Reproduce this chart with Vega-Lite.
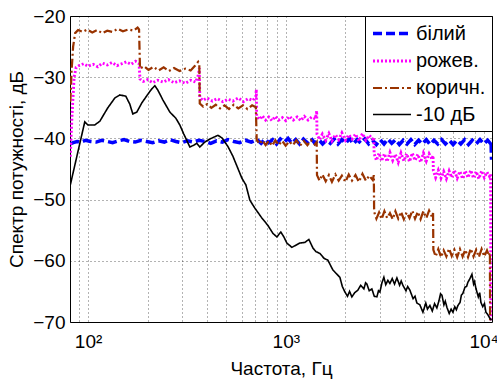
{
  "$schema": "https://vega.github.io/schema/vega-lite/v6.json",
  "width": 422,
  "height": 306,
  "autosize": {"type": "none"},
  "padding": {"left": 70, "top": 16, "right": 5, "bottom": 58},
  "config": {
    "font": "Liberation Sans",
    "view": {"stroke": "#000000", "strokeWidth": 1},
    "axis": {
      "domain": false,
      "ticks": false,
      "tickSize": 0,
      "grid": true,
      "gridColor": "#000000",
      "gridOpacity": 0.6,
      "gridDash": [1, 3],
      "gridWidth": 1,
      "labelFont": "Liberation Sans",
      "labelFontSize": 19,
      "labelColor": "#000000",
      "titleFont": "Liberation Sans",
      "titleFontSize": 19,
      "titleFontWeight": "normal",
      "titleColor": "#000000"
    },
    "legend": {
      "orient": "top-right",
      "offset": 0,
      "strokeColor": "#000000",
      "fillColor": "#ffffff",
      "padding": 6,
      "rowPadding": 6,
      "symbolType": "M-1,0H3",
      "symbolSize": 361,
      "symbolStrokeWidth": 2.5,
      "labelFont": "Liberation Sans",
      "labelFontSize": 20,
      "labelOffset": 22,
      "labelColor": "#000000"
    }
  },
  "data": {
    "values": [
      {"s": "білий", "f": 81.5, "db": -40.9}, {"s": "білий", "f": 84, "db": -40.7}, {"s": "білий", "f": 88, "db": -40.5}, {"s": "білий", "f": 92, "db": -40.6}, {"s": "білий", "f": 97, "db": -40.3}, {"s": "білий", "f": 103, "db": -40.5}, {"s": "білий", "f": 110, "db": -40.6}, {"s": "білий", "f": 117, "db": -40.3}, {"s": "білий", "f": 125, "db": -40.5}, {"s": "білий", "f": 133, "db": -40.7}, {"s": "білий", "f": 142, "db": -40.4}, {"s": "білий", "f": 152, "db": -40.2}, {"s": "білий", "f": 162, "db": -40.5}, {"s": "білий", "f": 173, "db": -40.6}, {"s": "білий", "f": 185, "db": -40.3}, {"s": "білий", "f": 198, "db": -40.5}, {"s": "білий", "f": 212, "db": -40.7}, {"s": "білий", "f": 227, "db": -40.4}, {"s": "білий", "f": 243, "db": -40.6}, {"s": "білий", "f": 260, "db": -40.2}, {"s": "білий", "f": 278, "db": -40.5}, {"s": "білий", "f": 297, "db": -40.7}, {"s": "білий", "f": 318, "db": -40.4}, {"s": "білий", "f": 340, "db": -40.6}, {"s": "білий", "f": 364, "db": -40.3}, {"s": "білий", "f": 390, "db": -40.5}, {"s": "білий", "f": 417, "db": -40.8}, {"s": "білий", "f": 446, "db": -40.4}, {"s": "білий", "f": 477, "db": -40.6}, {"s": "білий", "f": 510, "db": -40.2}, {"s": "білий", "f": 546, "db": -40.5}, {"s": "білий", "f": 584, "db": -40.7}, {"s": "білий", "f": 625, "db": -40.3}, {"s": "білий", "f": 668, "db": -40.6}, {"s": "білий", "f": 715, "db": -40.2}, {"s": "білий", "f": 750, "db": -40.8}, {"s": "білий", "f": 785, "db": -40.1}, {"s": "білий", "f": 820, "db": -40.7}, {"s": "білий", "f": 858, "db": -40.2}, {"s": "білий", "f": 897, "db": -40.9}, {"s": "білий", "f": 938, "db": -40.1}, {"s": "білий", "f": 981, "db": -40.6}, {"s": "білий", "f": 1026, "db": -40.0}, {"s": "білий", "f": 1073, "db": -40.8}, {"s": "білий", "f": 1122, "db": -40.2}, {"s": "білий", "f": 1173, "db": -40.9}, {"s": "білий", "f": 1227, "db": -40.1}, {"s": "білий", "f": 1283, "db": -40.7}, {"s": "білий", "f": 1342, "db": -40.0}, {"s": "білий", "f": 1403, "db": -40.8}, {"s": "білий", "f": 1467, "db": -40.2}, {"s": "білий", "f": 1534, "db": -40.9}, {"s": "білий", "f": 1604, "db": -40.3}, {"s": "білий", "f": 1678, "db": -40.8}, {"s": "білий", "f": 1754, "db": -40.1}, {"s": "білий", "f": 1835, "db": -40.9}, {"s": "білий", "f": 1918, "db": -40.2}, {"s": "білий", "f": 2006, "db": -40.8}, {"s": "білий", "f": 2098, "db": -40.0}, {"s": "білий", "f": 2194, "db": -40.9}, {"s": "білий", "f": 2294, "db": -40.2}, {"s": "білий", "f": 2399, "db": -40.8}, {"s": "білий", "f": 2508, "db": -40.1}, {"s": "білий", "f": 2623, "db": -40.9}, {"s": "білий", "f": 2743, "db": -40.3}, {"s": "білий", "f": 2868, "db": -41.0}, {"s": "білий", "f": 2999, "db": -40.2}, {"s": "білий", "f": 3136, "db": -40.9}, {"s": "білий", "f": 3280, "db": -40.1}, {"s": "білий", "f": 3430, "db": -40.8}, {"s": "білий", "f": 3586, "db": -40.2}, {"s": "білий", "f": 3750, "db": -41.0}, {"s": "білий", "f": 3922, "db": -40.3}, {"s": "білий", "f": 4101, "db": -40.9}, {"s": "білий", "f": 4288, "db": -40.2}, {"s": "білий", "f": 4484, "db": -41.0}, {"s": "білий", "f": 4689, "db": -40.3}, {"s": "білий", "f": 4904, "db": -40.9}, {"s": "білий", "f": 5128, "db": -40.2}, {"s": "білий", "f": 5362, "db": -41.0}, {"s": "білий", "f": 5607, "db": -40.3}, {"s": "білий", "f": 5864, "db": -40.9}, {"s": "білий", "f": 6132, "db": -40.2}, {"s": "білий", "f": 6412, "db": -40.9}, {"s": "білий", "f": 6705, "db": -40.3}, {"s": "білий", "f": 7012, "db": -41.0}, {"s": "білий", "f": 7332, "db": -40.3}, {"s": "білий", "f": 7667, "db": -40.9}, {"s": "білий", "f": 8018, "db": -40.2}, {"s": "білий", "f": 8384, "db": -41.0}, {"s": "білий", "f": 8768, "db": -40.3}, {"s": "білий", "f": 9168, "db": -40.9}, {"s": "білий", "f": 9588, "db": -40.2}, {"s": "білий", "f": 10026, "db": -40.9}, {"s": "білий", "f": 10484, "db": -40.3}, {"s": "білий", "f": 10800, "db": -40.8}, {"s": "білий", "f": 10900, "db": -40.4}, {"s": "білий", "f": 10960, "db": -43.5},

      {"s": "рожев.", "f": 81.3, "db": -43}, {"s": "рожев.", "f": 83, "db": -36}, {"s": "рожев.", "f": 85, "db": -30}, {"s": "рожев.", "f": 87, "db": -28.4}, {"s": "рожев.", "f": 90, "db": -28.1}, {"s": "рожев.", "f": 95, "db": -27.8}, {"s": "рожев.", "f": 100, "db": -28.2}, {"s": "рожев.", "f": 106, "db": -27.9}, {"s": "рожев.", "f": 112, "db": -28.3}, {"s": "рожев.", "f": 118, "db": -27.7}, {"s": "рожев.", "f": 125, "db": -28.0}, {"s": "рожев.", "f": 132, "db": -27.6}, {"s": "рожев.", "f": 140, "db": -28.1}, {"s": "рожев.", "f": 148, "db": -27.8}, {"s": "рожев.", "f": 156, "db": -27.5}, {"s": "рожев.", "f": 165, "db": -27.9}, {"s": "рожев.", "f": 174, "db": -27.4}, {"s": "рожев.", "f": 181, "db": -27.8}, {"s": "рожев.", "f": 183, "db": -30.3}, {"s": "рожев.", "f": 190, "db": -30.7}, {"s": "рожев.", "f": 200, "db": -30.4}, {"s": "рожев.", "f": 212, "db": -30.9}, {"s": "рожев.", "f": 225, "db": -30.5}, {"s": "рожев.", "f": 240, "db": -30.8}, {"s": "рожев.", "f": 255, "db": -30.4}, {"s": "рожев.", "f": 272, "db": -30.9}, {"s": "рожев.", "f": 290, "db": -30.6}, {"s": "рожев.", "f": 310, "db": -31.0}, {"s": "рожев.", "f": 330, "db": -30.5}, {"s": "рожев.", "f": 350, "db": -30.8}, {"s": "рожев.", "f": 362, "db": -29.5}, {"s": "рожев.", "f": 365, "db": -28.5}, {"s": "рожев.", "f": 367, "db": -33.3}, {"s": "рожев.", "f": 380, "db": -33.8}, {"s": "рожев.", "f": 400, "db": -33.4}, {"s": "рожев.", "f": 425, "db": -33.9}, {"s": "рожев.", "f": 450, "db": -33.5}, {"s": "рожев.", "f": 480, "db": -34.0}, {"s": "рожев.", "f": 510, "db": -33.6}, {"s": "рожев.", "f": 540, "db": -33.9}, {"s": "рожев.", "f": 575, "db": -33.4}, {"s": "рожев.", "f": 610, "db": -34.0}, {"s": "рожев.", "f": 645, "db": -33.5}, {"s": "рожев.", "f": 680, "db": -33.8}, {"s": "рожев.", "f": 705, "db": -33.2}, {"s": "рожев.", "f": 709, "db": -32.0}, {"s": "рожев.", "f": 712, "db": -36.4}, {"s": "рожев.", "f": 735, "db": -36.9}, {"s": "рожев.", "f": 760, "db": -36.3}, {"s": "рожев.", "f": 790, "db": -37.0}, {"s": "рожев.", "f": 820, "db": -36.5}, {"s": "рожев.", "f": 850, "db": -37.1}, {"s": "рожев.", "f": 885, "db": -36.4}, {"s": "рожев.", "f": 920, "db": -37.0}, {"s": "рожев.", "f": 960, "db": -36.6}, {"s": "рожев.", "f": 1000, "db": -37.1}, {"s": "рожев.", "f": 1045, "db": -36.4}, {"s": "рожев.", "f": 1090, "db": -37.0}, {"s": "рожев.", "f": 1140, "db": -36.5}, {"s": "рожев.", "f": 1190, "db": -37.1}, {"s": "рожев.", "f": 1240, "db": -36.4}, {"s": "рожев.", "f": 1295, "db": -37.0}, {"s": "рожев.", "f": 1350, "db": -36.5}, {"s": "рожев.", "f": 1410, "db": -36.8}, {"s": "рожев.", "f": 1432, "db": -35.5}, {"s": "рожев.", "f": 1437, "db": -39.3}, {"s": "рожев.", "f": 1480, "db": -40.2}, {"s": "рожев.", "f": 1530, "db": -39.3}, {"s": "рожев.", "f": 1590, "db": -40.3}, {"s": "рожев.", "f": 1650, "db": -39.2}, {"s": "рожев.", "f": 1710, "db": -40.4}, {"s": "рожев.", "f": 1780, "db": -39.4}, {"s": "рожев.", "f": 1850, "db": -40.2}, {"s": "рожев.", "f": 1920, "db": -39.1}, {"s": "рожев.", "f": 2000, "db": -40.3}, {"s": "рожев.", "f": 2080, "db": -39.4}, {"s": "рожев.", "f": 2160, "db": -40.1}, {"s": "рожев.", "f": 2250, "db": -39.3}, {"s": "рожев.", "f": 2340, "db": -40.4}, {"s": "рожев.", "f": 2440, "db": -39.2}, {"s": "рожев.", "f": 2540, "db": -40.3}, {"s": "рожев.", "f": 2640, "db": -39.5}, {"s": "рожев.", "f": 2750, "db": -40.1}, {"s": "рожев.", "f": 2785, "db": -39.8}, {"s": "рожев.", "f": 2795, "db": -42.5}, {"s": "рожев.", "f": 2870, "db": -43.6}, {"s": "рожев.", "f": 2960, "db": -42.4}, {"s": "рожев.", "f": 3050, "db": -43.7}, {"s": "рожев.", "f": 3150, "db": -42.5}, {"s": "рожев.", "f": 3250, "db": -43.8}, {"s": "рожев.", "f": 3360, "db": -42.3}, {"s": "рожев.", "f": 3470, "db": -43.6}, {"s": "рожев.", "f": 3580, "db": -42.6}, {"s": "рожев.", "f": 3700, "db": -43.9}, {"s": "рожев.", "f": 3820, "db": -42.4}, {"s": "рожев.", "f": 3950, "db": -43.7}, {"s": "рожев.", "f": 4080, "db": -42.5}, {"s": "рожев.", "f": 4220, "db": -43.8}, {"s": "рожев.", "f": 4360, "db": -42.4}, {"s": "рожев.", "f": 4500, "db": -43.6}, {"s": "рожев.", "f": 4650, "db": -42.6}, {"s": "рожев.", "f": 4800, "db": -43.9}, {"s": "рожев.", "f": 4960, "db": -42.4}, {"s": "рожев.", "f": 5130, "db": -43.7}, {"s": "рожев.", "f": 5300, "db": -42.5}, {"s": "рожев.", "f": 5480, "db": -43.4}, {"s": "рожев.", "f": 5550, "db": -42.8}, {"s": "рожев.", "f": 5570, "db": -45.3}, {"s": "рожев.", "f": 5720, "db": -46.4}, {"s": "рожев.", "f": 5900, "db": -45.2}, {"s": "рожев.", "f": 6090, "db": -46.5}, {"s": "рожев.", "f": 6280, "db": -45.4}, {"s": "рожев.", "f": 6480, "db": -46.6}, {"s": "рожев.", "f": 6690, "db": -45.3}, {"s": "рожев.", "f": 6900, "db": -46.4}, {"s": "рожев.", "f": 7120, "db": -45.2}, {"s": "рожев.", "f": 7350, "db": -46.5}, {"s": "рожев.", "f": 7590, "db": -45.4}, {"s": "рожев.", "f": 7830, "db": -46.6}, {"s": "рожев.", "f": 8080, "db": -45.3}, {"s": "рожев.", "f": 8340, "db": -46.4}, {"s": "рожев.", "f": 8610, "db": -45.2}, {"s": "рожев.", "f": 8890, "db": -46.5}, {"s": "рожев.", "f": 9170, "db": -45.4}, {"s": "рожев.", "f": 9460, "db": -46.6}, {"s": "рожев.", "f": 9770, "db": -45.3}, {"s": "рожев.", "f": 10080, "db": -46.4}, {"s": "рожев.", "f": 10400, "db": -45.5}, {"s": "рожев.", "f": 10700, "db": -46.2}, {"s": "рожев.", "f": 10850, "db": -45.8}, {"s": "рожев.", "f": 10880, "db": -72},

      {"s": "коричн.", "f": 81.3, "db": -34}, {"s": "коричн.", "f": 82.5, "db": -29}, {"s": "коричн.", "f": 84, "db": -25}, {"s": "коричн.", "f": 86, "db": -22.8}, {"s": "коричн.", "f": 89, "db": -22.3}, {"s": "коричн.", "f": 94, "db": -22.6}, {"s": "коричн.", "f": 99, "db": -22.2}, {"s": "коричн.", "f": 105, "db": -22.7}, {"s": "коричн.", "f": 111, "db": -22.3}, {"s": "коричн.", "f": 118, "db": -22.8}, {"s": "коричн.", "f": 125, "db": -22.4}, {"s": "коричн.", "f": 133, "db": -22.6}, {"s": "коричн.", "f": 141, "db": -22.1}, {"s": "коричн.", "f": 150, "db": -22.5}, {"s": "коричн.", "f": 160, "db": -22.2}, {"s": "коричн.", "f": 170, "db": -22.4}, {"s": "коричн.", "f": 178, "db": -21.9}, {"s": "коричн.", "f": 181, "db": -22.2}, {"s": "коричн.", "f": 183, "db": -28.6}, {"s": "коричн.", "f": 192, "db": -28.2}, {"s": "коричн.", "f": 202, "db": -28.8}, {"s": "коричн.", "f": 214, "db": -28.3}, {"s": "коричн.", "f": 227, "db": -28.9}, {"s": "коричн.", "f": 241, "db": -28.4}, {"s": "коричн.", "f": 256, "db": -29.0}, {"s": "коричн.", "f": 272, "db": -28.5}, {"s": "коричн.", "f": 290, "db": -29.0}, {"s": "коричн.", "f": 310, "db": -28.6}, {"s": "коричн.", "f": 330, "db": -28.9}, {"s": "коричн.", "f": 348, "db": -28.1}, {"s": "коричн.", "f": 360, "db": -27.5}, {"s": "коричн.", "f": 365, "db": -28.0}, {"s": "коричн.", "f": 367, "db": -34.3}, {"s": "коричн.", "f": 382, "db": -34.8}, {"s": "коричн.", "f": 400, "db": -34.4}, {"s": "коричн.", "f": 420, "db": -35.0}, {"s": "коричн.", "f": 442, "db": -34.5}, {"s": "коричн.", "f": 465, "db": -35.1}, {"s": "коричн.", "f": 490, "db": -34.6}, {"s": "коричн.", "f": 516, "db": -35.2}, {"s": "коричн.", "f": 545, "db": -34.5}, {"s": "коричн.", "f": 575, "db": -35.1}, {"s": "коричн.", "f": 607, "db": -34.6}, {"s": "коричн.", "f": 640, "db": -35.2}, {"s": "коричн.", "f": 675, "db": -34.6}, {"s": "коричн.", "f": 705, "db": -34.9}, {"s": "коричн.", "f": 712, "db": -40.2}, {"s": "коричн.", "f": 735, "db": -40.9}, {"s": "коричн.", "f": 760, "db": -40.3}, {"s": "коричн.", "f": 790, "db": -41.1}, {"s": "коричн.", "f": 820, "db": -40.4}, {"s": "коричн.", "f": 852, "db": -41.2}, {"s": "коричн.", "f": 885, "db": -40.3}, {"s": "коричн.", "f": 920, "db": -41.1}, {"s": "коричн.", "f": 958, "db": -40.4}, {"s": "коричн.", "f": 998, "db": -41.2}, {"s": "коричн.", "f": 1040, "db": -40.5}, {"s": "коричн.", "f": 1085, "db": -41.1}, {"s": "коричн.", "f": 1130, "db": -40.3}, {"s": "коричн.", "f": 1180, "db": -41.2}, {"s": "коричн.", "f": 1230, "db": -40.4}, {"s": "коричн.", "f": 1285, "db": -41.1}, {"s": "коричн.", "f": 1340, "db": -40.3}, {"s": "коричн.", "f": 1400, "db": -41.0}, {"s": "коричн.", "f": 1432, "db": -40.6}, {"s": "коричн.", "f": 1437, "db": -46.0}, {"s": "коричн.", "f": 1480, "db": -46.9}, {"s": "коричн.", "f": 1530, "db": -45.9}, {"s": "коричн.", "f": 1590, "db": -47.0}, {"s": "коричн.", "f": 1650, "db": -46.0}, {"s": "коричн.", "f": 1710, "db": -47.1}, {"s": "коричн.", "f": 1780, "db": -45.9}, {"s": "коричн.", "f": 1850, "db": -46.9}, {"s": "коричн.", "f": 1920, "db": -46.1}, {"s": "коричн.", "f": 2000, "db": -47.1}, {"s": "коричн.", "f": 2080, "db": -45.9}, {"s": "коричн.", "f": 2160, "db": -46.9}, {"s": "коричн.", "f": 2250, "db": -46.0}, {"s": "коричн.", "f": 2340, "db": -47.1}, {"s": "коричн.", "f": 2440, "db": -45.8}, {"s": "коричн.", "f": 2540, "db": -46.9}, {"s": "коричн.", "f": 2640, "db": -46.1}, {"s": "коричн.", "f": 2750, "db": -46.8}, {"s": "коричн.", "f": 2785, "db": -46.0}, {"s": "коричн.", "f": 2795, "db": -52.0}, {"s": "коричн.", "f": 2870, "db": -53.1}, {"s": "коричн.", "f": 2960, "db": -52.1}, {"s": "коричн.", "f": 3050, "db": -53.2}, {"s": "коричн.", "f": 3150, "db": -51.9}, {"s": "коричн.", "f": 3250, "db": -53.0}, {"s": "коричн.", "f": 3360, "db": -52.2}, {"s": "коричн.", "f": 3470, "db": -53.2}, {"s": "коричн.", "f": 3580, "db": -51.9}, {"s": "коричн.", "f": 3700, "db": -53.1}, {"s": "коричн.", "f": 3820, "db": -52.0}, {"s": "коричн.", "f": 3950, "db": -53.2}, {"s": "коричн.", "f": 4080, "db": -52.1}, {"s": "коричн.", "f": 4220, "db": -53.0}, {"s": "коричн.", "f": 4360, "db": -51.8}, {"s": "коричн.", "f": 4500, "db": -53.1}, {"s": "коричн.", "f": 4650, "db": -52.0}, {"s": "коричн.", "f": 4800, "db": -53.2}, {"s": "коричн.", "f": 4960, "db": -51.9}, {"s": "коричн.", "f": 5130, "db": -53.0}, {"s": "коричн.", "f": 5300, "db": -51.8}, {"s": "коричн.", "f": 5480, "db": -52.8}, {"s": "коричн.", "f": 5550, "db": -52.2}, {"s": "коричн.", "f": 5570, "db": -58.2}, {"s": "коричн.", "f": 5720, "db": -59.3}, {"s": "коричн.", "f": 5900, "db": -58.1}, {"s": "коричн.", "f": 6090, "db": -59.4}, {"s": "коричн.", "f": 6280, "db": -58.3}, {"s": "коричн.", "f": 6480, "db": -59.3}, {"s": "коричн.", "f": 6690, "db": -58.0}, {"s": "коричн.", "f": 6900, "db": -59.2}, {"s": "коричн.", "f": 7120, "db": -58.2}, {"s": "коричн.", "f": 7350, "db": -59.4}, {"s": "коричн.", "f": 7590, "db": -58.1}, {"s": "коричн.", "f": 7830, "db": -59.3}, {"s": "коричн.", "f": 8080, "db": -58.2}, {"s": "коричн.", "f": 8340, "db": -59.4}, {"s": "коричн.", "f": 8610, "db": -58.0}, {"s": "коричн.", "f": 8890, "db": -59.3}, {"s": "коричн.", "f": 9170, "db": -58.2}, {"s": "коричн.", "f": 9460, "db": -59.4}, {"s": "коричн.", "f": 9770, "db": -58.1}, {"s": "коричн.", "f": 10080, "db": -59.3}, {"s": "коричн.", "f": 10400, "db": -58.3}, {"s": "коричн.", "f": 10650, "db": -59.2}, {"s": "коричн.", "f": 10760, "db": -58.7}, {"s": "коричн.", "f": 10790, "db": -72},

      {"s": "-10 дБ", "f": 81.3, "db": -47.6}, {"s": "-10 дБ", "f": 96.2, "db": -37.3}, {"s": "-10 дБ", "f": 99.7, "db": -37.8}, {"s": "-10 дБ", "f": 108.1, "db": -37.8}, {"s": "-10 дБ", "f": 114.6, "db": -37.2}, {"s": "-10 дБ", "f": 125.8, "db": -35.0}, {"s": "-10 дБ", "f": 136.5, "db": -33.4}, {"s": "-10 дБ", "f": 144.6, "db": -32.9}, {"s": "-10 дБ", "f": 155.1, "db": -33.1}, {"s": "-10 дБ", "f": 162.5, "db": -34.4}, {"s": "-10 дБ", "f": 168.3, "db": -36.0}, {"s": "-10 дБ", "f": 176.3, "db": -35.7}, {"s": "-10 дБ", "f": 186.9, "db": -34.2}, {"s": "-10 дБ", "f": 200.4, "db": -32.8}, {"s": "-10 дБ", "f": 210, "db": -31.9}, {"s": "-10 дБ", "f": 217.5, "db": -31.4}, {"s": "-10 дБ", "f": 225.2, "db": -32.1}, {"s": "-10 дБ", "f": 238.7, "db": -33.7}, {"s": "-10 дБ", "f": 259, "db": -35.7}, {"s": "-10 дБ", "f": 277.7, "db": -36.7}, {"s": "-10 дБ", "f": 290.9, "db": -37.8}, {"s": "-10 дБ", "f": 304.8, "db": -39.3}, {"s": "-10 дБ", "f": 326.9, "db": -41.4}, {"s": "-10 дБ", "f": 342.5, "db": -41.1}, {"s": "-10 дБ", "f": 354.6, "db": -40.8}, {"s": "-10 дБ", "f": 367.3, "db": -41.4}, {"s": "-10 дБ", "f": 389.3, "db": -40.6}, {"s": "-10 дБ", "f": 412.6, "db": -40.1}, {"s": "-10 дБ", "f": 453.1, "db": -39.5}, {"s": "-10 дБ", "f": 474.7, "db": -39.9}, {"s": "-10 дБ", "f": 509, "db": -41.3}, {"s": "-10 дБ", "f": 539.5, "db": -42.9}, {"s": "-10 дБ", "f": 571.9, "db": -44.9}, {"s": "-10 дБ", "f": 599.2, "db": -46.5}, {"s": "-10 дБ", "f": 627.8, "db": -47.6}, {"s": "-10 дБ", "f": 657.7, "db": -50.1}, {"s": "-10 дБ", "f": 697.1, "db": -51.4}, {"s": "-10 дБ", "f": 756, "db": -53.0}, {"s": "-10 дБ", "f": 810.6, "db": -54.2}, {"s": "-10 дБ", "f": 859.3, "db": -55.5}, {"s": "-10 дБ", "f": 900.4, "db": -56.1}, {"s": "-10 дБ", "f": 943.4, "db": -55.3}, {"s": "-10 дБ", "f": 977, "db": -56.1}, {"s": "-10 дБ", "f": 1011.6, "db": -57.1}, {"s": "-10 дБ", "f": 1072.3, "db": -57.8}, {"s": "-10 дБ", "f": 1177, "db": -57.1}, {"s": "-10 дБ", "f": 1248, "db": -57.0}, {"s": "-10 дБ", "f": 1307, "db": -56.5}, {"s": "-10 дБ", "f": 1370, "db": -57.9}, {"s": "-10 дБ", "f": 1420, "db": -58.5}, {"s": "-10 дБ", "f": 1486, "db": -58.8}, {"s": "-10 дБ", "f": 1560, "db": -59.6}, {"s": "-10 дБ", "f": 1631, "db": -59.9}, {"s": "-10 дБ", "f": 1729, "db": -61.5}, {"s": "-10 дБ", "f": 1876, "db": -62.7}, {"s": "-10 дБ", "f": 1930, "db": -64.2}, {"s": "-10 дБ", "f": 1989, "db": -65.1}, {"s": "-10 дБ", "f": 2050, "db": -65.8}, {"s": "-10 дБ", "f": 2100, "db": -65.0}, {"s": "-10 дБ", "f": 2157, "db": -65.9}, {"s": "-10 дБ", "f": 2230, "db": -65.2}, {"s": "-10 дБ", "f": 2312, "db": -64.8}, {"s": "-10 дБ", "f": 2390, "db": -64.0}, {"s": "-10 дБ", "f": 2480, "db": -64.6}, {"s": "-10 дБ", "f": 2530, "db": -63.6}, {"s": "-10 дБ", "f": 2568, "db": -63.8}, {"s": "-10 дБ", "f": 2640, "db": -64.9}, {"s": "-10 дБ", "f": 2723, "db": -64.6}, {"s": "-10 дБ", "f": 2800, "db": -65.8}, {"s": "-10 дБ", "f": 2886, "db": -65.9}, {"s": "-10 дБ", "f": 2940, "db": -64.9}, {"s": "-10 дБ", "f": 2989, "db": -65.1}, {"s": "-10 дБ", "f": 3060, "db": -63.6}, {"s": "-10 дБ", "f": 3131, "db": -62.7}, {"s": "-10 дБ", "f": 3200, "db": -63.9}, {"s": "-10 дБ", "f": 3280, "db": -63.2}, {"s": "-10 дБ", "f": 3358, "db": -63.7}, {"s": "-10 дБ", "f": 3450, "db": -62.9}, {"s": "-10 дБ", "f": 3543, "db": -63.8}, {"s": "-10 дБ", "f": 3643, "db": -62.8}, {"s": "-10 дБ", "f": 3760, "db": -64.0}, {"s": "-10 дБ", "f": 3830, "db": -63.3}, {"s": "-10 дБ", "f": 3906, "db": -64.0}, {"s": "-10 дБ", "f": 4050, "db": -64.9}, {"s": "-10 дБ", "f": 4130, "db": -64.2}, {"s": "-10 дБ", "f": 4238, "db": -64.8}, {"s": "-10 дБ", "f": 4400, "db": -66.2}, {"s": "-10 дБ", "f": 4500, "db": -65.8}, {"s": "-10 дБ", "f": 4597, "db": -66.9}, {"s": "-10 дБ", "f": 4760, "db": -67.2}, {"s": "-10 дБ", "f": 4932, "db": -68.4}, {"s": "-10 дБ", "f": 5100, "db": -66.9}, {"s": "-10 дБ", "f": 5200, "db": -67.9}, {"s": "-10 дБ", "f": 5350, "db": -67.3}, {"s": "-10 дБ", "f": 5500, "db": -68.2}, {"s": "-10 дБ", "f": 5650, "db": -67.0}, {"s": "-10 дБ", "f": 5803, "db": -67.7}, {"s": "-10 дБ", "f": 5950, "db": -66.5}, {"s": "-10 дБ", "f": 6053, "db": -65.4}, {"s": "-10 дБ", "f": 6153, "db": -65.6}, {"s": "-10 дБ", "f": 6300, "db": -67.2}, {"s": "-10 дБ", "f": 6400, "db": -66.6}, {"s": "-10 дБ", "f": 6522, "db": -67.6}, {"s": "-10 дБ", "f": 6700, "db": -68.6}, {"s": "-10 дБ", "f": 6850, "db": -67.9}, {"s": "-10 дБ", "f": 6994, "db": -68.4}, {"s": "-10 дБ", "f": 7150, "db": -67.5}, {"s": "-10 дБ", "f": 7280, "db": -68.0}, {"s": "-10 дБ", "f": 7413, "db": -67.3}, {"s": "-10 дБ", "f": 7600, "db": -66.8}, {"s": "-10 дБ", "f": 7720, "db": -65.6}, {"s": "-10 дБ", "f": 7859, "db": -65.3}, {"s": "-10 дБ", "f": 8050, "db": -64.3}, {"s": "-10 дБ", "f": 8200, "db": -64.2}, {"s": "-10 дБ", "f": 8329, "db": -63.5}, {"s": "-10 дБ", "f": 8500, "db": -63.0}, {"s": "-10 дБ", "f": 8728, "db": -62.2}, {"s": "-10 дБ", "f": 8900, "db": -63.8}, {"s": "-10 дБ", "f": 9000, "db": -63.4}, {"s": "-10 дБ", "f": 9141, "db": -64.5}, {"s": "-10 дБ", "f": 9400, "db": -65.9}, {"s": "-10 дБ", "f": 9550, "db": -65.2}, {"s": "-10 дБ", "f": 9690, "db": -66.8}, {"s": "-10 дБ", "f": 9900, "db": -67.5}, {"s": "-10 дБ", "f": 10100, "db": -67.0}, {"s": "-10 дБ", "f": 10270, "db": -68.4}, {"s": "-10 дБ", "f": 10500, "db": -68.8}, {"s": "-10 дБ", "f": 10762, "db": -69.4}, {"s": "-10 дБ", "f": 10950, "db": -69.7}
    ]
  },
  "mark": {"type": "line", "clip": true},
  "encoding": {
    "x": {
      "field": "f",
      "type": "quantitative",
      "scale": {"type": "log", "domain": [81, 11025], "nice": false},
      "axis": {
        "values": [90, 100, 200, 300, 400, 500, 600, 700, 800, 900, 1000, 2000, 3000, 4000, 5000, 6000, 7000, 8000, 9000, 10000],
        "labelExpr": "datum.value == 100 ? '10²' : datum.value == 1000 ? '10³' : datum.value == 10000 ? '10⁴' : ''",
        "labelOverlap": false,
        "labelFlush": false,
        "labelPadding": 10,
        "title": "Частота, Гц",
        "titlePadding": 8
      }
    },
    "y": {
      "field": "db",
      "type": "quantitative",
      "scale": {"domain": [-70, -20], "nice": false},
      "axis": {
        "values": [-70, -60, -50, -40, -30, -20],
        "labelPadding": 5,
        "labelFlush": false,
        "title": "Спектр потужності, дБ",
        "titlePadding": 6
      }
    },
    "color": {
      "field": "s",
      "type": "nominal",
      "scale": {"domain": ["білий", "рожев.", "коричн.", "-10 дБ"], "range": ["#0000ff", "#ff00ff", "#993300", "#000000"]},
      "legend": {"title": null}
    },
    "strokeDash": {
      "field": "s",
      "type": "nominal",
      "scale": {"domain": ["білий", "рожев.", "коричн.", "-10 дБ"], "range": [[9, 4], [2, 2], [9, 3, 2, 3], [1, 0]]},
      "legend": {"title": null}
    },
    "strokeWidth": {
      "field": "s",
      "type": "nominal",
      "scale": {"domain": ["білий", "рожев.", "коричн.", "-10 дБ"], "range": [3.5, 1.6, 2, 2]},
      "legend": null
    }
  }
}
